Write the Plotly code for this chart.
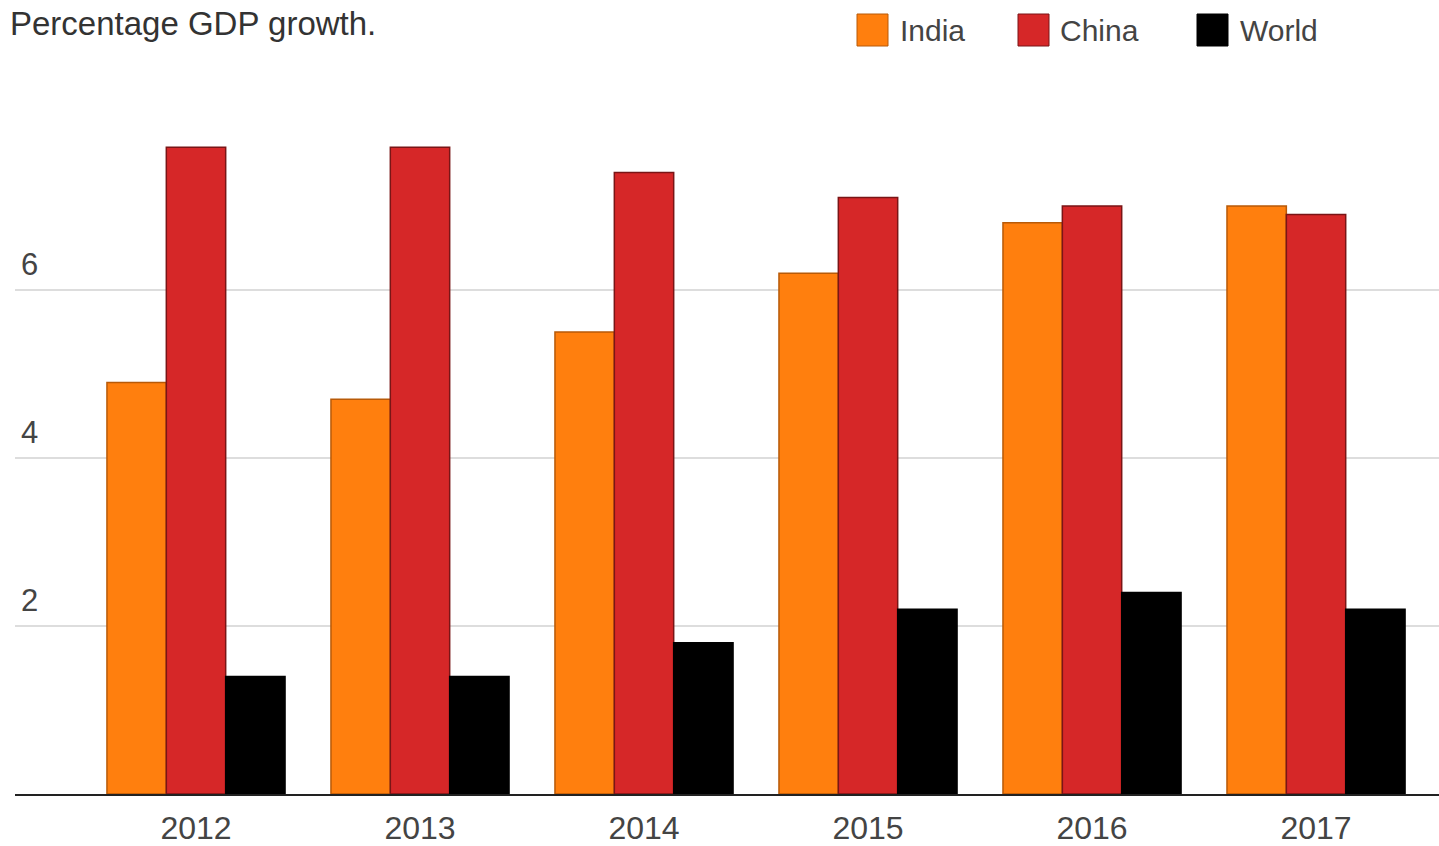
import plotly.graph_objects as go

years = ["2012", "2013", "2014", "2015", "2016", "2017"]
india = [4.9, 4.7, 5.5, 6.2, 6.8, 7.0]
china = [7.7, 7.7, 7.4, 7.1, 7.0, 6.9]
world = [1.4, 1.4, 1.8, 2.2, 2.4, 2.2]

series_names = ["India", "China", "World"]
series_values = [india, china, world]
fill_colors = ["#FF7F0E", "#D62728", "#000000"]
line_colors = ["#B85A08", "#7A1516", "#000000"]
y_ticks = [2, 4, 6]

W, H = 1439, 846
L, R, T, B = 15, 0, 100, 52
FONT = "Liberation Sans, Arial, sans-serif"

fig = go.Figure()
for name, vals, fc, lc in zip(series_names, series_values, fill_colors, line_colors):
    fig.add_trace(go.Bar(
        x=years, y=vals, name=name, showlegend=False,
        marker=dict(color=fc, line=dict(color=lc, width=1.5)),
    ))

pw = W - L - R
ph = H - T - B


def px_x(px):
    return (px - L) / pw


def px_y(py):
    return (H - B - py) / ph


# custom legend
sq_left = [857, 1018, 1197]
txt_left = [898, 1058, 1238]
shapes = []
annotations = []
for name, fc, lc, sx, tx in zip(series_names, fill_colors, line_colors, sq_left, txt_left):
    shapes.append(dict(type="rect", xref="paper", yref="paper",
                       x0=px_x(sx), x1=px_x(sx + 31), y0=px_y(46), y1=px_y(14),
                       fillcolor=fc, line=dict(color=lc, width=1)))
    annotations.append(dict(text=name, xref="paper", yref="paper",
                            x=px_x(tx), y=px_y(31), xanchor="left", yanchor="middle",
                            showarrow=False, font=dict(family=FONT, size=30, color="#444444")))

fig.update_layout(
    width=W, height=H,
    margin=dict(l=L, r=R, t=T, b=B),
    paper_bgcolor="white", plot_bgcolor="white",
    barmode="group", bargap=0.205, bargroupgap=0,
    title=dict(text="Percentage GDP growth.", xref="container", yref="container",
               x=10 / W, y=1 - 23 / H, xanchor="left", yanchor="middle",
               font=dict(family=FONT, size=33, color="#333333")),
    shapes=shapes,
    annotations=annotations,
    xaxis=dict(type="category", range=[-0.808, 5.549], showgrid=False,
               showline=True, linecolor="#222222", linewidth=2,
               ticks="", tickfont=dict(family=FONT, size=32, color="#444444"),
               ticklabelstandoff=5),
    yaxis=dict(range=[0, (H - B - T) / 84.0], tickvals=y_ticks,
               showgrid=True, gridcolor="#DDDDDD", gridwidth=1.5,
               zeroline=False, showline=False,
               ticklabelposition="inside", ticklabelshift=-26, ticklabelstandoff=3,
               tickfont=dict(family=FONT, size=31, color="#444444")),
)

fig.write_html("out.html", config={"displayModeBar": False},
               post_script="document.body.style.margin='0';document.body.style.overflow='hidden';")
